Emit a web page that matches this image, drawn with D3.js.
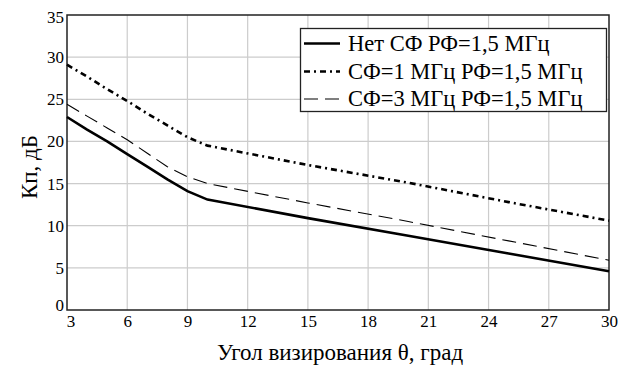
<!DOCTYPE html>
<html><head><meta charset="utf-8">
<script src="https://cdn.jsdelivr.net/npm/d3@7"></script>
<style>body{margin:0;background:#fff}svg{display:block}</style>
</head><body><svg id="c" width="622" height="369"></svg>
<script>
const xTicks = [3,6,9,12,15,18,21,24,27,30];
const yTicks = [0,5,10,15,20,25,30,35];
const seriesNames = ["Нет СФ РФ=1,5 МГц","СФ=1 МГц РФ=1,5 МГц","СФ=3 МГц РФ=1,5 МГц"];
const angleNo = [3,4,5,6,7,8,9,10,15,20,25,30];
const valNo   = [22.9,21.4,20.0,18.5,17.0,15.5,14.1,13.1,10.9,8.8,6.7,4.6];
const angle1 = [3,4,5,6,7,8,9,10,15,20,25,30];
const val1   = [29.1,27.7,26.2,24.8,23.3,21.9,20.5,19.5,17.2,15.1,12.8,10.6];
const angle3 = [3,4,5,6,7,8,9,10,15,20,25,30];
const val3   = [24.4,23.0,21.6,20.2,18.6,17.0,15.8,15.0,12.7,10.5,8.2,5.9];

const FF = "Liberation Serif";
const svg = d3.select("#c");
const L=67,R=609,T=15,B=310;
const x = d3.scaleLinear().domain([3,30]).range([L,R]);
const y = d3.scaleLinear().domain([0,35]).range([B,T]);

const g = svg.append("g");
g.selectAll(".gx").data(xTicks.slice(1,-1)).enter().append("line")
 .attr("x1",d=>x(d)).attr("x2",d=>x(d)).attr("y1",T).attr("y2",B)
 .attr("stroke","#cccccc").attr("stroke-width",1.2);
g.selectAll(".gy").data(yTicks.slice(1,-1)).enter().append("line")
 .attr("x1",L).attr("x2",R).attr("y1",d=>y(d)).attr("y2",d=>y(d))
 .attr("stroke","#cccccc").attr("stroke-width",1.2);

const xa = svg.append("g").attr("transform",`translate(0,${B})`)
 .call(d3.axisBottom(x).tickValues(xTicks).tickSize(0).tickPadding(5).tickFormat(d3.format("d")));
xa.attr("font-family",FF).attr("font-size",17);
xa.select(".domain").remove();
xa.selectAll("text").attr("fill","#000");
xa.selectAll(".tick").filter(d=>d===3).select("text").attr("dx","0.2em");
const ya = svg.append("g").attr("transform",`translate(${L},0)`)
 .call(d3.axisLeft(y).tickValues(yTicks).tickSize(0).tickPadding(3).tickFormat(d3.format("d")));
ya.attr("font-family",FF).attr("font-size",17);
ya.select(".domain").remove();
ya.selectAll("text").attr("fill","#000");
ya.selectAll(".tick").filter(d=>d===0).select("text").attr("dy","0.05em");
ya.selectAll(".tick").filter(d=>d===35).select("text").attr("dy","0.45em");

svg.append("rect").attr("x",L).attr("y",T).attr("width",R-L).attr("height",B-T)
 .attr("fill","none").attr("stroke","#222").attr("stroke-width",1.5);

const line = d3.line().x(d=>x(d[0])).y(d=>y(d[1]));
const styles = [
 {w:2.6, dash:null},
 {w:2.6, dash:"6,4,2,4"},
 {w:1.1, dash:"14,7"}
];
const data = [d3.zip(angleNo,valNo), d3.zip(angle1,val1), d3.zip(angle3,val3)];
data.forEach((d,i)=>{
 svg.append("path").datum(d).attr("d",line).attr("fill","none").attr("stroke","#000")
  .attr("stroke-width",styles[i].w).attr("stroke-dasharray",styles[i].dash);
});

const lg = svg.append("g").attr("font-family",FF);
lg.append("rect").attr("x",300.5).attr("y",28.5).attr("width",306).attr("height",83)
 .attr("fill","#fff").attr("stroke","#222").attr("stroke-width",1.3);
const rowY=[43.5,71.5,99];
seriesNames.forEach((n,i)=>{
 lg.append("line").attr("x1",304).attr("x2",340).attr("y1",rowY[i]).attr("y2",rowY[i])
  .attr("stroke","#000").attr("stroke-width",styles[i].w).attr("stroke-dasharray",styles[i].dash);
 lg.append("text").attr("x",348).attr("y",rowY[i]).attr("dy","0.33em")
  .attr("font-size",22.5).text(n);
});

svg.append("text").attr("transform","translate(37,167) rotate(-90)").attr("text-anchor","middle")
 .attr("font-family",FF).attr("font-size",23).text("Кп, дБ");
svg.append("text").attr("x",340).attr("y",360).attr("text-anchor","middle")
 .attr("font-family",FF).attr("font-size",23).text("Угол визирования θ, град");
</script></body></html>
